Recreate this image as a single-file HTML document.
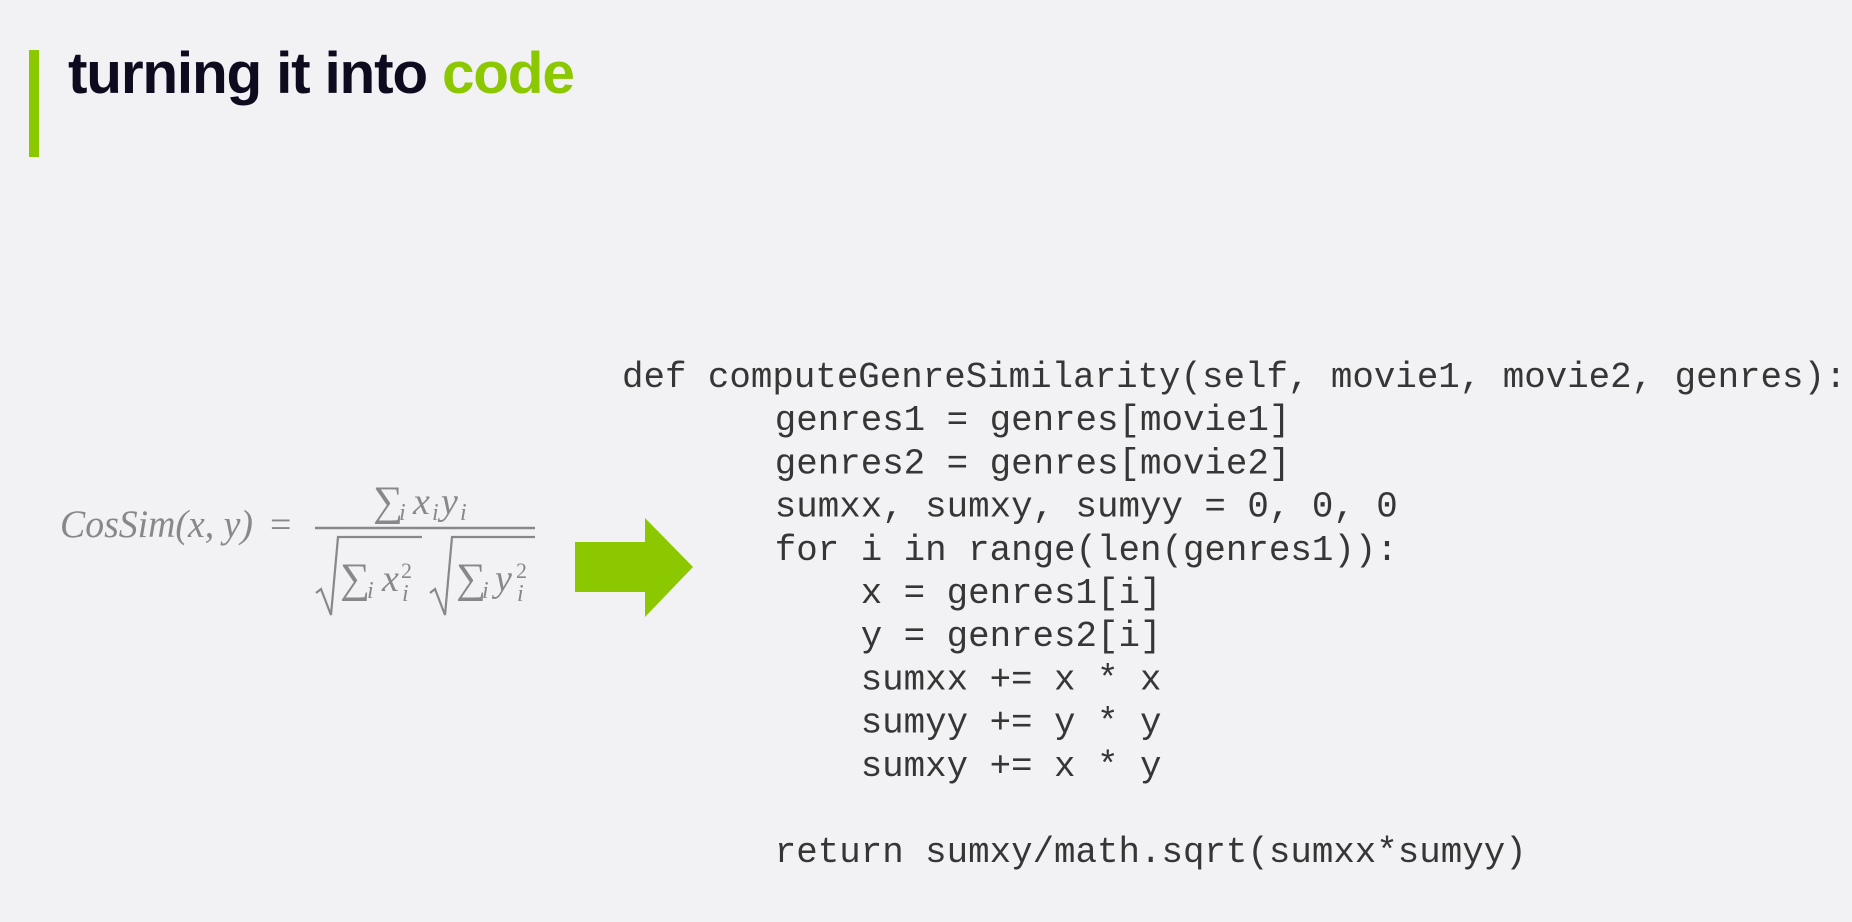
<!DOCTYPE html>
<html>
<head>
<meta charset="utf-8">
<style>
  html,body{margin:0;padding:0;background:#f2f2f5;}
  body{width:1852px;height:922px;overflow:hidden;}
  svg{display:block;}
  .code{font-family:"Liberation Mono","DejaVu Sans Mono",monospace;font-size:35.8px;fill:#363636;}
  .m{font-family:"Liberation Serif","DejaVu Serif",serif;fill:#88888a;}
  .it{font-style:italic;}
</style>
</head>
<body>
<svg width="1852" height="922" viewBox="0 0 1852 922" xmlns="http://www.w3.org/2000/svg">
  <rect x="0" y="0" width="1852" height="922" fill="#f2f2f5"/>
  <!-- title bar -->
  <rect x="29" y="50" width="10" height="107" fill="#8cc800"/>
  <text x="68" y="93" font-family="'Liberation Sans','DejaVu Sans',sans-serif" font-weight="bold" font-size="58.5" letter-spacing="-1.2" fill="#0e0b1f">turning it into <tspan fill="#8cc800">code</tspan></text>

  <!-- formula -->
  <text class="m it" x="60" y="537" font-size="39" textLength="193" lengthAdjust="spacingAndGlyphs">CosSim(x, y)</text>
  <text class="m" x="270" y="537" font-size="38">=</text>
  <line x1="315" y1="528" x2="535" y2="528" stroke="#88888a" stroke-width="2.5"/>
  <!-- numerator -->
  <text class="m" x="373" y="515" font-size="42">∑</text>
  <text class="m it" x="399" y="520" font-size="24">i</text>
  <text class="m it" x="413" y="514" font-size="38">x</text>
  <text class="m it" x="432" y="520" font-size="24">i</text>
  <text class="m it" x="441" y="514" font-size="38">y</text>
  <text class="m it" x="460" y="520" font-size="24">i</text>
  <!-- denominator -->
  <path d="M316,593 L321,589 L331,615 L338,537 L422,537" fill="none" stroke="#88888a" stroke-width="2.2" stroke-linejoin="miter"/>
  <path d="M430,593 L435,589 L445,615 L452,537 L535,537" fill="none" stroke="#88888a" stroke-width="2.2" stroke-linejoin="miter"/>
  <text class="m" x="340" y="592" font-size="42">∑</text>
  <text class="m it" x="367" y="598" font-size="24">i</text>
  <text class="m it" x="382" y="591" font-size="38">x</text>
  <text class="m" x="401" y="578" font-size="22">2</text>
  <text class="m it" x="402" y="601" font-size="24">i</text>
  <text class="m" x="456" y="592" font-size="42">∑</text>
  <text class="m it" x="482" y="598" font-size="24">i</text>
  <text class="m it" x="495" y="591" font-size="38">y</text>
  <text class="m" x="516" y="578" font-size="22">2</text>
  <text class="m it" x="517" y="601" font-size="24">i</text>

  <!-- arrow -->
  <polygon points="575,542 645,542 645,518 693,567 645,617 645,592 575,592" fill="#8cc800"/>

  <!-- code -->
  <text class="code" x="622" y="387" xml:space="preserve">def computeGenreSimilarity(self, movie1, movie2, genres):</text>
  <text class="code" x="774.8" y="430.2" xml:space="preserve">genres1 = genres[movie1]</text>
  <text class="code" x="774.8" y="473.4" xml:space="preserve">genres2 = genres[movie2]</text>
  <text class="code" x="774.8" y="516.6" xml:space="preserve">sumxx, sumxy, sumyy = 0, 0, 0</text>
  <text class="code" x="774.8" y="559.8" xml:space="preserve">for i in range(len(genres1)):</text>
  <text class="code" x="860.7" y="603" xml:space="preserve">x = genres1[i]</text>
  <text class="code" x="860.7" y="646.2" xml:space="preserve">y = genres2[i]</text>
  <text class="code" x="860.7" y="689.4" xml:space="preserve">sumxx += x * x</text>
  <text class="code" x="860.7" y="732.6" xml:space="preserve">sumyy += y * y</text>
  <text class="code" x="860.7" y="775.8" xml:space="preserve">sumxy += x * y</text>
  <text class="code" x="774.8" y="862.2" xml:space="preserve">return sumxy/math.sqrt(sumxx*sumyy)</text>
</svg>
</body>
</html>
